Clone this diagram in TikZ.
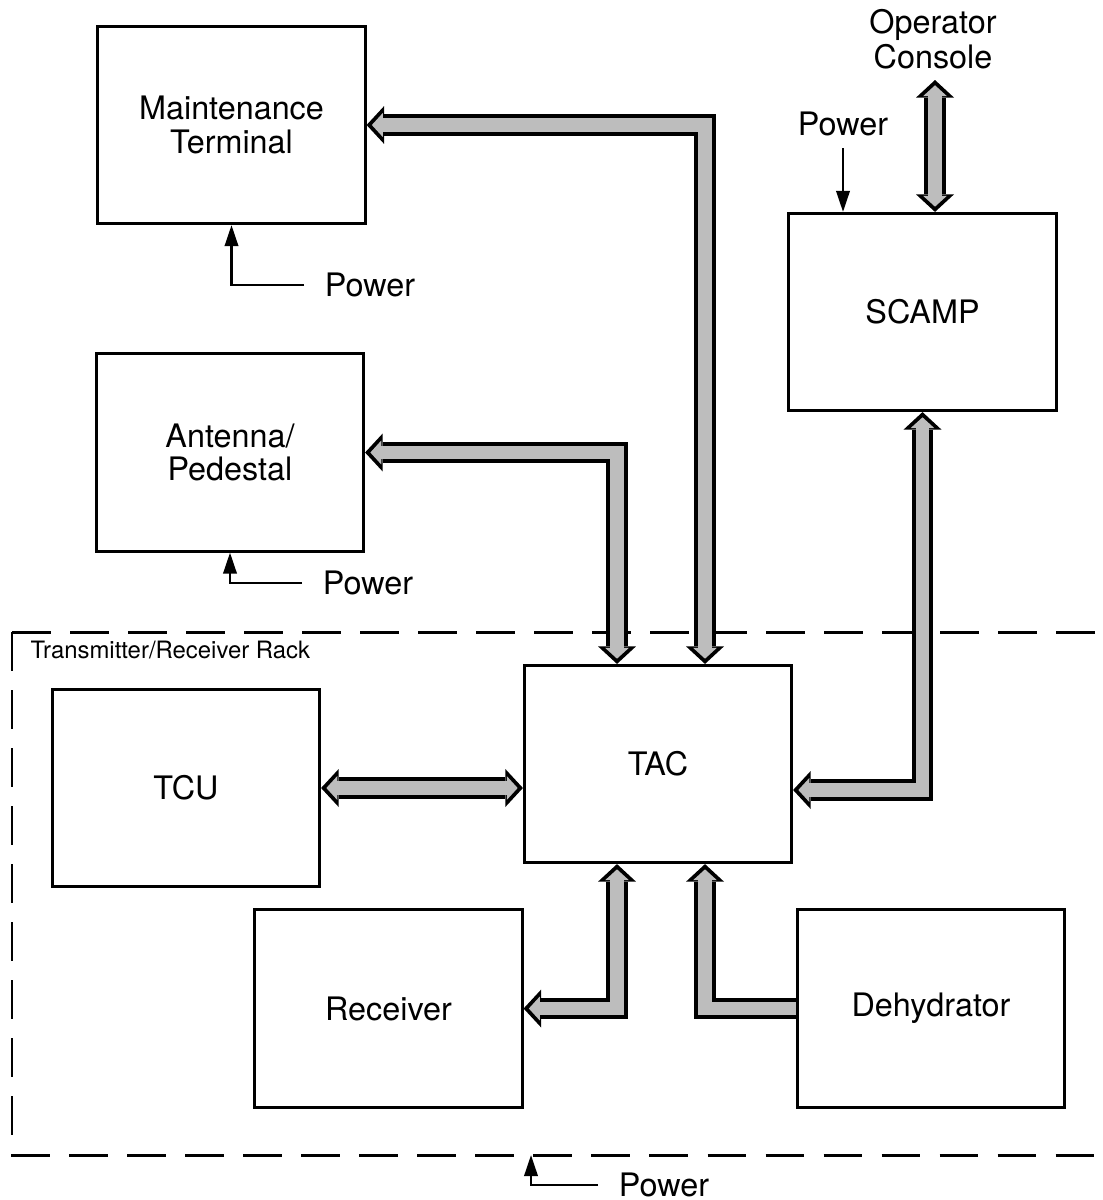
\documentclass[tikz,border=0pt]{standalone}
\usepackage{fontspec}
\setmainfont{TeX Gyre Heros}
\usepackage{tikz}
\usetikzlibrary{arrows.meta}
\definecolor{busgray}{gray}{0.74}

\tikzset{
  outtip/.tip={Triangle[width=10.8pt,length=5pt,line width=0pt]},
  intip/.tip={Triangle[width=6.8pt,length=3.1pt,line width=0pt,sep=1.5pt]},
  unit/.style={draw, line width=0.85pt, minimum width=2.67cm, minimum height=1.97cm,
    inner sep=0pt, align=center, font=\fontsize{9.2}{9.5}\selectfont},
  pwrlbl/.style={inner xsep=5.7pt, inner ysep=3.3pt, font=\fontsize{9.2}{9.5}\selectfont},
  pwr/.style={line width=0.75pt, -{Triangle[width=3.8pt,length=6pt]}},
  rack/.style={line width=0.85pt, dash pattern=on 11pt off 5.5pt},
  busout/.style={draw=black, line width=6pt, line join=miter, >=outtip},
  busin/.style={draw=busgray, line width=3.8pt, line join=miter, >=intip},
}
% fat bus arrow: outline first, grey core on top
\newcommand{\busline}[2]{%
  \draw[busout,#1] #2;
  \draw[busin,#1] #2;
}

\begin{document}
\begin{tikzpicture}[x=0.01cm, y=-0.01cm]
  \useasboundingbox (0,0) rectangle (1102,1200);

  % units
  \node[unit] (mt)    at (231.5,125)    {Maintenance\\Terminal};
  \node[unit] (ant)   at (230,452.5)    {Antenna/\\Pedestal};
  \node[unit] (scamp) at (922.5,312)    {SCAMP};
  \node[unit] (tcu)   at (186,788)      {TCU};
  \node[unit] (tac)   at (658,764)      {TAC};
  \node[unit] (rcv)   at (388.5,1008.5) {Receiver};
  \node[unit] (dehy)  at (931,1008.5)   {Dehydrator};

  % transmitter/receiver rack
  \draw[rack] (12,632) -- (1102,632);
  \draw[rack] (12,632) -- (12,1155) -- (1102,1155);
  \node[anchor=west, inner sep=0pt, font=\fontsize{6.8}{7}\selectfont] (rackname) at (30,650)
    {Transmitter/Receiver Rack};
  \coordinate (rackpwr) at (531,1155);

  % bend points of the buses
  \coordinate (mtbend)    at (705,125);
  \coordinate (antbend)   at (617,452.5);
  \coordinate (scampbend) at (922.5,790);
  \coordinate (rcvbend)   at (617,1008.5);
  \coordinate (dehybend)  at (705,1008.5);
  \coordinate (console)   at (935,80);

  % buses
  \busline{<->}{(mt.east) -- (mtbend) -- (mtbend |- tac.north)}
  \busline{<->}{(ant.east) -- (antbend) -- (antbend |- tac.north)}
  \busline{<->}{(scamp.south) -- (scampbend) -- (scampbend -| tac.east)}
  \busline{<->}{(tcu.east) -- (tcu.east -| tac.west)}
  \busline{<->}{(rcv.east) -- (rcvbend) -- (rcvbend |- tac.south)}
  \busline{->}{(dehy.west) -- (dehybend) -- (dehybend |- tac.south)}
  \busline{<->}{(console) -- (console |- scamp.north)}
  \node[align=center, inner sep=0pt, font=\fontsize{9.2}{8.4}\selectfont] (opcon) at (933,39)
    {Operator\\Console};

  % power feeds
  \node[pwrlbl] (pwrmt)    at (370,285)  {Power};
  \node[pwrlbl] (pwrant)   at (368,583)  {Power};
  \node[pwrlbl] (pwrscamp) at (843,124)  {Power};
  \node[pwrlbl] (pwrrack)  at (664,1185) {Power};
  \draw[pwr] (pwrmt.west) -| (mt.south);
  \draw[pwr] (pwrant.west) -| (ant.south);
  \draw[pwr] (pwrscamp.south) -- (pwrscamp.south |- scamp.north);
  \draw[pwr] (pwrrack.west) -| (rackpwr);
\end{tikzpicture}
\end{document}
